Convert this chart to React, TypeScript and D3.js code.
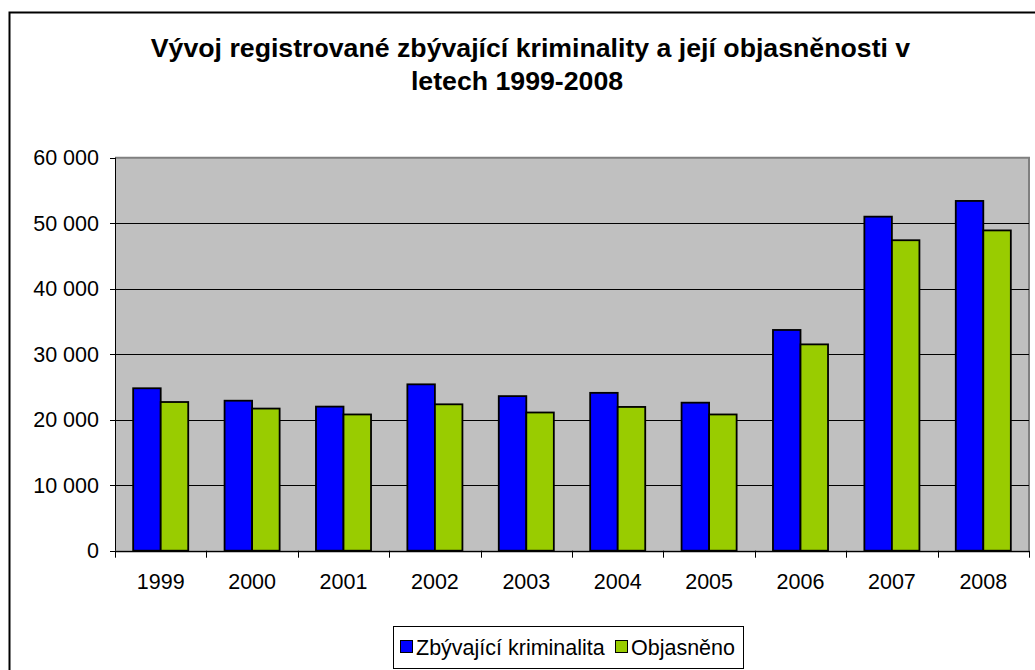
import React from "react";
import * as d3 from "d3";

const years = ["1999", "2000", "2001", "2002", "2003", "2004", "2005", "2006", "2007", "2008"];
const zbyvajici = [24800, 22900, 22000, 25400, 23600, 24100, 22600, 33700, 51000, 53400];
const objasneno = [22700, 21700, 20800, 22350, 21100, 21950, 20800, 31500, 47400, 48900];
const seriesNames = ["Zbývající kriminalita", "Objasněno"];
const seriesColors = ["#0000FF", "#99CC00"];
const yTicks = [0, 10000, 20000, 30000, 40000, 50000, 60000];

export default function App({
  width = 1035,
  height = 670,
  plotLeft = 115,
  plotRight = 1029,
  plotTop = 157.7,
  plotBottom = 550.7
}) {
  const font = "'Liberation Sans', Arial, sans-serif";
  const labelSize = 21.5;

  // category scale, ticks sit on the band edges
  const x0 = d3.scaleBand().domain(years).range([plotLeft, plotRight]).padding(0);
  // the two bars inside each year
  const x1 = d3.scaleBand().domain(seriesNames).range([0, x0.bandwidth()]).paddingInner(0).paddingOuter(0.66);
  const y = d3.scaleLinear().domain([0, 60000]).range([plotBottom, plotTop]);

  const fmt = (v: number) => d3.format(",")(v).replace(/,/g, " ");
  const values = [zbyvajici, objasneno];

  return (
    <svg width={width} height={height} style={{ position: "absolute", left: 0, top: 0 }} fontFamily={font}>
      {/* outer frame */}
      <rect x={9.5} y={12.5} width={1040} height={700} fill="white" stroke="black" strokeWidth={2} />

      {/* title */}
      <text x={530.5} y={57} textAnchor="middle" fontSize={26.7} fontWeight="bold">
        Vývoj registrované zbývající kriminality a její objasněnosti v
      </text>
      <text x={517} y={90} textAnchor="middle" fontSize={26.7} fontWeight="bold">
        letech 1999-2008
      </text>

      {/* plot background */}
      <rect x={plotLeft} y={plotTop} width={plotRight - plotLeft} height={plotBottom - plotTop} fill="#C0C0C0" />
      <path d={`M${plotLeft},${plotTop}H${plotRight}V${plotBottom}`} fill="none" stroke="#808080" strokeWidth={2} />

      {/* gridlines and y ticks */}
      {yTicks.map((t) => (
        <g key={t}>
          {t > 0 && t < 60000 && (
            <line x1={plotLeft} x2={plotRight} y1={Math.round(y(t)) + 0.5} y2={Math.round(y(t)) + 0.5} stroke="black" />
          )}
          <line x1={plotLeft - 5} x2={plotLeft} y1={Math.round(y(t)) + 0.5} y2={Math.round(y(t)) + 0.5} stroke="black" />
          <text x={plotLeft - 16} y={y(t)} dy="0.36em" textAnchor="end" fontSize={labelSize}>
            {fmt(t)}
          </text>
        </g>
      ))}

      {/* bars */}
      {years.map((yr, i) => (
        <g key={yr} transform={`translate(${x0(yr)},0)`}>
          {seriesNames.map((s, j) => (
            <rect
              key={s}
              x={x1(s)}
              y={y(values[j][i])}
              width={x1.bandwidth()}
              height={plotBottom - y(values[j][i])}
              fill={seriesColors[j]}
              stroke="black"
              strokeWidth={1.8}
            />
          ))}
        </g>
      ))}

      {/* axes */}
      <line x1={plotLeft + 0.5} x2={plotLeft + 0.5} y1={plotTop} y2={plotBottom} stroke="black" />
      <line x1={plotLeft} x2={plotRight} y1={Math.round(plotBottom) + 0.5} y2={Math.round(plotBottom) + 0.5} stroke="black" strokeWidth={1.5} />
      {[...years.map((yr) => x0(yr) as number), plotRight].map((xv, i) => (
        <line key={i} x1={Math.round(xv) + 0.5} x2={Math.round(xv) + 0.5} y1={plotBottom} y2={plotBottom + 7} stroke="black" />
      ))}
      {years.map((yr) => (
        <text key={yr} x={(x0(yr) as number) + x0.bandwidth() / 2} y={589} textAnchor="middle" fontSize={labelSize}>
          {yr}
        </text>
      ))}

      {/* legend */}
      <rect x={393.5} y={626.5} width={350} height={42} fill="white" stroke="black" />
      {seriesNames.map((s, j) => {
        const lx = j === 0 ? 400 : 615;
        return (
          <g key={s}>
            <rect x={lx + 0.5} y={640.5} width={12} height={12} fill={seriesColors[j]} stroke="black" />
            <text x={lx + 16} y={655} fontSize={labelSize}>
              {s}
            </text>
          </g>
        );
      })}
    </svg>
  );
}
